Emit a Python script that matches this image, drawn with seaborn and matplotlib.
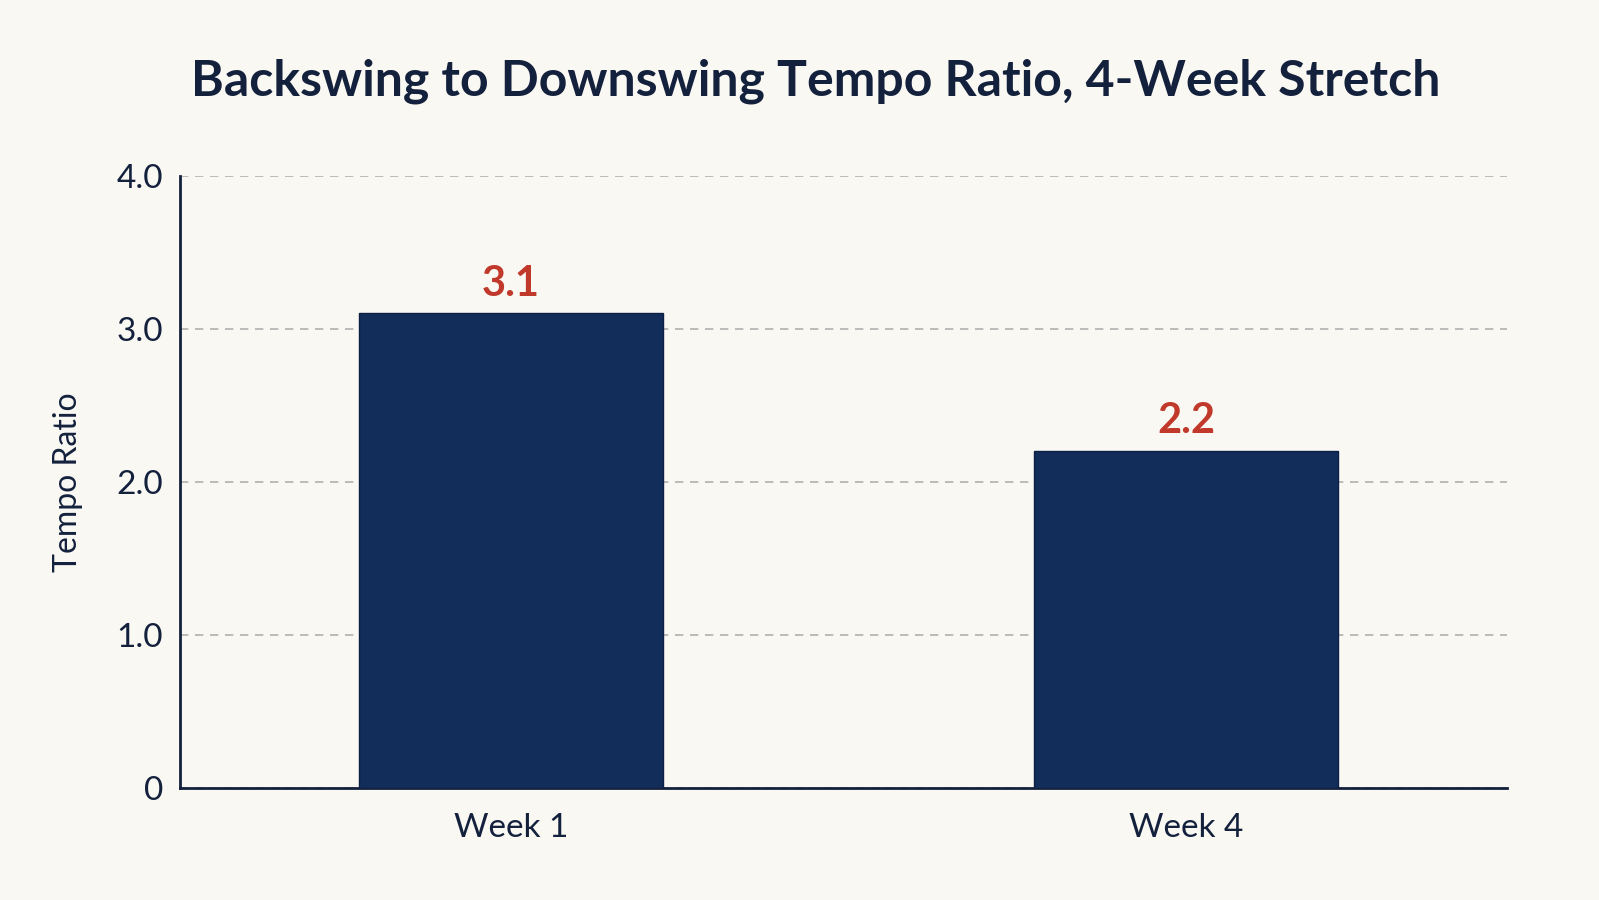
import matplotlib
matplotlib.use("Agg")
import matplotlib.pyplot as plt
import seaborn as sns
import pandas as pd

weeks = ["Week 1", "Week 4"]
ratios = [3.1, 2.2]
y_ticks = [0, 1.0, 2.0, 3.0, 4.0]
y_tick_labels = ["0", "1.0", "2.0", "3.0", "4.0"]

bg = "#faf8f3"
navy = "#14213d"
bar_color = "#132d5a"
red = "#c0392b"

sns.set_theme(style="white")
plt.rcParams["font.family"] = ["Lato", "DejaVu Sans"]

data = pd.DataFrame({"week": weeks, "ratio": ratios})

fig = plt.figure(figsize=(15.99, 9), dpi=100, facecolor=bg)
ax = fig.add_axes([0.1123, 0.1244, 0.8303, 0.6806])
ax.set_facecolor(bg)

sns.barplot(data=data, x="week", y="ratio", color=bar_color, width=0.45,
            saturation=1, ax=ax, zorder=3, edgecolor="#0d1f45", linewidth=1)

ax.set_ylim(0, 4.0)
ax.set_xlim(-0.491, 1.476)
ax.set_yticks(y_ticks)
ax.set_yticklabels(y_tick_labels)
ax.yaxis.grid(True, color="#b0b0b0", linestyle=(0, (5, 4)), linewidth=1.2, zorder=0)
ax.xaxis.grid(False)

for s in ["top", "right"]:
    ax.spines[s].set_visible(False)
for s in ["left", "bottom"]:
    ax.spines[s].set_color(navy)
    ax.spines[s].set_linewidth(2)

ax.tick_params(axis="both", length=0, labelsize=24, colors=navy, pad=12)
ax.tick_params(axis="x", pad=18)
ax.set_xlabel("")
ax.set_ylabel("Tempo Ratio", fontsize=23, color=navy, labelpad=24)

for p, v in zip(ax.patches, ratios):
    ax.text(p.get_x() + p.get_width() / 2, v + 0.07, f"{v:.1f}", ha="center", va="bottom",
            fontsize=30, fontweight="bold", color=red)

fig.text(0.51, 0.91, "Backswing to Downswing Tempo Ratio, 4-Week Stretch", fontsize=36,
         fontweight="bold", color=navy, ha="center", va="center")

fig.savefig("out.png", dpi=100, facecolor=bg)
